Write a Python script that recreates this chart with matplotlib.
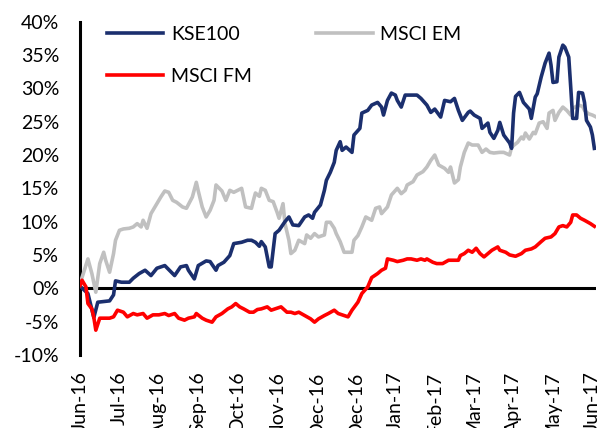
import matplotlib.pyplot as plt
from matplotlib.ticker import FuncFormatter

# trading-day index (Jun-16 = 0) and % return
kse_days = [0, 4, 7, 9, 12, 15, 17, 18, 21, 25, 27, 30, 33, 36, 39, 43, 45, 48, 51, 54,
            55, 58, 60, 64, 66, 69, 70, 73, 76, 78, 82, 85, 87, 89, 91, 92, 94, 96, 97, 99,
            101, 104, 106, 108, 111, 114, 116, 118, 119, 122, 124, 125, 127, 129, 130, 132,
            133, 135, 138, 139, 142, 143, 146, 148, 151, 153, 154, 156, 158, 160, 161, 163,
            165, 167, 171, 173, 176, 178, 180, 183, 185, 188, 190, 192, 194, 197, 198, 200,
            203, 204, 207, 208, 210, 212, 213, 215, 218, 219, 220, 221, 223, 225, 228, 229,
            231, 232, 234, 236, 238, 239, 240, 242, 243, 245, 246, 248, 249, 250, 252, 253,
            255, 256, 257, 259, 260, 261]
kse_vals = [0.3, -0.8, -4.4, -2.1, -2.0, -1.9, -1.0, 1.1, 0.9, 0.9, 1.5, 2.2, 2.7, 1.9, 3.0,
            3.4, 2.8, 1.9, 3.2, 3.4, 2.7, 1.4, 3.4, 4.1, 4.0, 2.7, 3.4, 3.9, 4.9, 6.7, 6.9,
            7.2, 7.2, 6.9, 6.3, 7.0, 6.2, 3.2, 3.2, 8.2, 8.7, 10.0, 10.7, 9.5, 9.4, 10.7,
            11.0, 10.5, 11.4, 12.5, 14.7, 16.2, 17.4, 18.9, 20.7, 22.0, 20.7, 21.2, 20.4,
            23.0, 24.0, 26.3, 26.7, 27.5, 27.9, 27.2, 26.0, 28.2, 29.3, 29.0, 28.2, 27.2,
            29.0, 29.0, 29.0, 28.5, 27.5, 26.4, 26.9, 25.7, 28.2, 28.0, 28.5, 26.7, 25.2,
            26.4, 26.6, 26.0, 25.5, 24.0, 24.8, 23.4, 22.5, 23.7, 24.9, 23.0, 21.8, 21.0,
            26.3, 28.8, 29.4, 27.9, 26.9, 25.5, 28.7, 29.2, 31.7, 33.8, 35.3, 33.5, 30.9,
            31.0, 34.7, 36.5, 36.2, 34.7, 30.2, 25.5, 25.5, 29.4, 29.3, 27.9, 25.2, 24.2,
            23.0, 21.0]

em_days = [0, 1, 4, 6, 8, 10, 12, 13, 15, 17, 18, 20, 22, 25, 27, 29, 31, 32, 34, 36, 39,
           41, 43, 45, 47, 49, 52, 54, 57, 59, 60, 62, 64, 66, 68, 69, 72, 74, 76, 78, 80,
           82, 84, 87, 88, 89, 91, 92, 94, 96, 98, 100, 101, 103, 104, 106, 107, 109, 111,
           114, 115, 117, 119, 121, 124, 125, 127, 129, 130, 132, 134, 138, 139, 141, 143,
           145, 148, 150, 152, 153, 156, 158, 161, 163, 165, 166, 169, 171, 174, 176, 178,
           180, 182, 185, 187, 188, 190, 192, 193, 195, 197, 199, 202, 204, 206, 208, 210,
           213, 215, 218, 219, 222, 224, 225, 226, 228, 230, 231, 233, 235, 237, 238, 240,
           241, 243, 245, 247, 249, 250, 253, 255, 256, 258, 260, 262]
em_vals = [0.5, 1.6, 4.4, 2.2, -0.6, 3.7, 5.4, 4.2, 2.4, 5.2, 7.2, 8.7, 8.9, 9.0, 9.2, 9.7,
           9.2, 10.2, 9.0, 11.2, 12.7, 13.7, 14.6, 14.4, 13.2, 12.9, 12.2, 12.0, 13.7, 15.9,
           14.6, 12.2, 10.7, 11.7, 13.2, 15.5, 14.6, 13.2, 14.7, 14.4, 14.7, 15.0, 12.2,
           12.0, 13.2, 14.3, 13.8, 15.0, 14.7, 13.2, 13.0, 11.4, 10.5, 12.7, 9.7, 7.2, 5.2,
           5.7, 7.2, 6.7, 8.0, 7.5, 8.2, 7.7, 8.0, 9.9, 9.9, 9.0, 8.2, 7.0, 5.4, 5.4, 7.2,
           7.9, 9.2, 10.7, 10.2, 12.0, 12.2, 11.2, 12.2, 14.0, 15.0, 14.2, 14.7, 15.5, 16.0,
           17.0, 17.5, 18.2, 19.2, 20.0, 18.5, 18.0, 17.4, 18.2, 15.8, 16.3, 18.2, 20.4,
           21.8, 21.5, 21.5, 20.4, 20.9, 20.4, 20.3, 20.4, 20.4, 20.0, 21.2, 21.9, 22.7,
           22.4, 23.3, 22.4, 23.4, 23.2, 24.8, 25.0, 24.0, 26.3, 26.7, 25.2, 26.4, 27.2,
           26.7, 26.0, 27.0, 27.5, 27.3, 26.7, 26.2, 26.0, 25.7]

fm_days = [0, 1, 3, 4, 6, 7, 8, 10, 12, 15, 17, 19, 22, 24, 27, 29, 32, 34, 37, 40, 43, 45,
           48, 50, 53, 55, 58, 59, 62, 64, 67, 69, 72, 75, 77, 79, 81, 83, 86, 88, 90, 92,
           95, 97, 100, 102, 105, 107, 109, 111, 114, 117, 119, 121, 124, 126, 129, 131,
           134, 136, 138, 141, 143, 146, 148, 151, 153, 155, 156, 159, 161, 164, 166, 168,
           171, 173, 175, 176, 179, 181, 184, 187, 189, 192, 193, 195, 197, 199, 201, 203,
           205, 207, 209, 212, 213, 216, 218, 221, 224, 226, 229, 231, 234, 236, 239, 241,
           243, 245, 247, 249, 250, 252, 254, 256, 259, 261]
fm_vals = [0.4, 1.2, 0.2, -2.3, -3.1, -4.4, -6.3, -4.5, -4.5, -4.5, -4.3, -3.3, -3.6, -4.3,
           -3.8, -4.0, -3.8, -4.5, -4.0, -4.0, -3.8, -4.1, -3.8, -4.5, -4.8, -4.5, -4.3,
           -3.8, -4.5, -4.8, -5.1, -4.3, -3.8, -3.1, -2.8, -2.3, -2.8, -3.1, -3.6, -3.6,
           -3.2, -3.1, -2.8, -3.3, -3.0, -2.8, -3.6, -3.6, -3.8, -3.6, -4.1, -4.6, -5.1,
           -4.6, -4.1, -3.8, -3.3, -3.8, -4.1, -4.3, -3.3, -2.1, -0.8, 0.2, 1.6, 2.2, 2.7,
           3.0, 4.4, 4.2, 4.0, 4.2, 4.4, 4.4, 4.2, 4.4, 4.2, 4.4, 3.9, 3.7, 3.7, 4.2, 4.2,
           4.2, 4.9, 5.2, 5.7, 5.4, 6.0, 5.2, 4.7, 5.2, 5.7, 6.2, 5.7, 5.4, 5.0, 4.8, 5.2,
           5.7, 5.9, 6.2, 7.0, 7.5, 7.7, 8.2, 9.2, 9.4, 9.2, 9.9, 11.0, 11.0, 10.5, 10.2,
           9.7, 9.3]

tick_labels = ["Jun-16", "Jul-16", "Aug-16", "Sep-16", "Oct-16", "Nov-16", "Dec-16",
               "Dec-16", "Jan-17", "Feb-17", "Mar-17", "Apr-17", "May-17", "Jun-17"]

plt.rcParams["font.family"] = ["Lato", "DejaVu Sans"]

fig = plt.figure(figsize=(6.11, 4.28), dpi=100)
ax = fig.add_axes([0.131, 0.171, 0.845, 0.778])

navy = "#1b2f6e"
grey = "#c0c0c0"
red = "#ff0000"

h_kse, = ax.plot(kse_days, kse_vals, color=navy, lw=2.6, label="KSE100", zorder=4)
h_em, = ax.plot(em_days, em_vals, color=grey, lw=2.6, label="MSCI EM", zorder=3)
h_fm, = ax.plot(fm_days, fm_vals, color=red, lw=2.6, label="MSCI FM", zorder=5)
ax.axhline(0, color="black", lw=2.2, zorder=2)

ax.set_xlim(0, 262)
ax.set_ylim(-10, 40)
ax.set_yticks(range(-10, 41, 5))
ax.yaxis.set_major_formatter(FuncFormatter(lambda v, p: f"{v:.0f}%"))
ax.set_xticks(range(0, 261, 20))
ax.set_xticklabels(tick_labels, rotation=90)
ax.tick_params(axis="y", length=0, pad=15, labelsize=14)
ax.tick_params(axis="x", length=0, pad=12, labelsize=14)

for s in ["top", "right", "bottom"]:
    ax.spines[s].set_visible(False)
ax.spines["left"].set_linewidth(2.2)

# column-major order so KSE100 / MSCI FM sit in the left column
ax.legend(handles=[h_kse, h_fm, h_em], ncol=2, frameon=False, fontsize=14,
          loc="upper left", bbox_to_anchor=(0.175, 0.94), bbox_transform=fig.transFigure,
          borderpad=0, borderaxespad=0, handlelength=2.9, handletextpad=0.4,
          columnspacing=3.3, labelspacing=1.3)

fig.savefig("out.png", dpi=100)
